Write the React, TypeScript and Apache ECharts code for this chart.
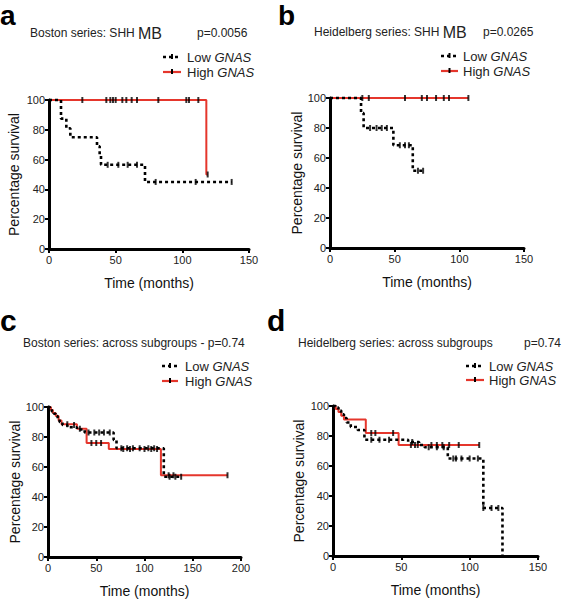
import React, { useEffect, useRef } from "react";
import * as echarts from "echarts";

const FONT = '"Liberation Sans", Arial, Helvetica, sans-serif';
const RED = "#e5362c";

// ---- data (time in months, percentage survival) ----
const yTicksMax = 100;
const xMaxA = 150, xMaxB = 150, xMaxC = 200, xMaxD = 150;

const aLowSteps = [[0, 100], [9, 87.5], [13, 81], [16, 75], [36, 69], [38, 62.5], [39, 56.5], [72, 45], [137, 45]];
const aLowCensor = [[44, 56.5], [52, 56.5], [59, 56.5], [66, 56.5], [80, 45], [110, 45], [137, 45]];
const aHighSteps = [[0, 100], [118, 50], [119, 50]];
const aHighCensor = [[25, 100], [43, 100], [46, 100], [48, 100], [50, 100], [55, 100], [58, 100], [62, 100], [66, 100], [82, 100], [103, 100], [105, 100], [112, 100], [119, 50]];

const bLowSteps = [[0, 100], [24, 90], [26, 80], [49, 68.5], [64, 51.5], [72, 51.5]];
const bLowCensor = [[31, 80], [36, 80], [40, 80], [44, 80], [54, 68.5], [58, 68.5], [61, 68.5], [68, 51.5], [72, 51.5]];
const bHighSteps = [[0, 100], [107, 100]];
const bHighCensor = [[25, 100], [30, 100], [58, 100], [71, 100], [75, 100], [82, 100], [88, 100], [92, 100], [107, 100]];

const cLowSteps = [[0, 100], [2, 99], [4, 97], [6, 95.5], [8, 94], [10, 92], [12, 90], [15, 88], [20, 86.5], [30, 85], [38, 83], [68, 78], [71, 72.5], [120, 53.5], [138, 53.5]];
const cLowCensor = [[27, 88], [42, 83], [48, 83], [53, 83], [58, 83], [64, 83], [76, 72.5], [82, 72.5], [88, 72.5], [95, 72.5], [104, 72.5], [110, 72.5], [126, 53.5], [132, 53.5], [138, 53.5]];
const cHighSteps = [[0, 100], [3, 98], [5, 96], [8, 94], [11, 91], [14, 88.5], [30, 85.5], [40, 76], [63, 72], [117, 54.5], [186, 54.5]];
const cHighCensor = [[20, 88.5], [33, 85.5], [45, 76], [50, 76], [55, 76], [78, 72], [85, 72], [100, 72], [107, 72], [113, 72], [125, 54.5], [130, 54.5], [186, 54.5]];

const dLowSteps = [[0, 100], [2, 99], [4, 97], [6, 94.5], [8, 92], [10, 89], [13, 86], [18, 84], [23, 77.5], [55, 76], [63, 74], [67, 72.5], [84, 65], [110, 32], [124, 0]];
const dLowCensor = [[28, 77.5], [34, 77.5], [41, 77.5], [58, 76], [70, 72.5], [76, 72.5], [81, 72.5], [88, 65], [90, 65], [94, 65], [100, 65], [106, 65], [110, 32], [116, 32], [121, 32]];
const dHighSteps = [[0, 100], [2, 98], [4, 96], [6, 93.5], [8, 91], [24, 82], [48, 74], [107, 74]];
const dHighCensor = [[28, 82], [31, 82], [44, 82], [57, 74], [60, 74], [62, 74], [72, 74], [76, 74], [80, 74], [85, 74], [92, 74], [107, 74]];

const titles = [
  { text: "Boston series: SHH {mb|MB}", p: "p=0.0056" },
  { text: "Heidelberg series: SHH {mb|MB}", p: "p=0.0265" },
  { text: "Boston series: across subgroups - p=0.74", p: "" },
  { text: "Heidelberg series: across subgroups", p: "p=0.74" },
];
const letters = ["a", "b", "c", "d"];

// ---- layout ----
const grids = [
  { left: 49, top: 100, width: 200, height: 149 },
  { left: 330, top: 98, width: 194, height: 150 },
  { left: 48, top: 407, width: 193, height: 150 },
  { left: 333, top: 406, width: 205, height: 150 },
];
const titlePos = [
  { x: 30, y: 33, px: 197 },
  { x: 314, y: 32, px: 483 },
  { x: 23, y: 343, px: 0 },
  { x: 298, y: 343, px: 524 },
];
const letterPos = [
  { x: 0, y: 29, size: 28 },
  { x: 278, y: 29, size: 28 },
  { x: 0, y: 335, size: 30 },
  { x: 267, y: 335, size: 30 },
];
const legendPos = [
  { x1: 163, x2: 181, tx: 187, y: 57, dy: 15 },
  { x1: 441, x2: 458, tx: 463, y: 56, dy: 15 },
  { x1: 162, x2: 178, tx: 185, y: 366, dy: 15 },
  { x1: 466, x2: 484, tx: 489, y: 366, dy: 14 },
];

function stepSeries(data: number[][], idx: number, low: boolean) {
  return {
    type: "line",
    xAxisIndex: idx,
    yAxisIndex: idx,
    data,
    step: "end",
    showSymbol: false,
    symbol: "none",
    clip: false,
    silent: true,
    lineStyle: low
      ? { color: "#000", width: 2.6, type: [3, 3] }
      : { color: RED, width: 2 },
    z: low ? 4 : 3,
  };
}
function censorSeries(data: number[][], idx: number) {
  return {
    type: "scatter",
    xAxisIndex: idx,
    yAxisIndex: idx,
    data,
    symbol: "rect",
    symbolSize: [2, 6],
    itemStyle: { color: "#000" },
    clip: false,
    silent: true,
    z: 5,
  };
}

export default function App() {
  const ref = useRef<HTMLDivElement>(null);
  useEffect(() => {
    if (!ref.current) return;
    const chart = echarts.init(ref.current, undefined, { renderer: "svg" });
    const xMaxes = [xMaxA, xMaxB, xMaxC, xMaxD];
    const nameGapsY = [28, 25, 26, 27];

    const xAxis = grids.map((_, i) => ({
      gridIndex: i,
      type: "value",
      min: 0,
      max: xMaxes[i],
      interval: 50,
      axisLine: { show: true, onZero: false, lineStyle: { color: "#000", width: 3 } },
      axisTick: { show: true, length: 4, lineStyle: { color: "#000", width: 2 } },
      axisLabel: { fontSize: 11, color: "#222", margin: 5, fontFamily: FONT },
      splitLine: { show: false },
      name: "Time (months)",
      nameLocation: "middle",
      nameGap: 27,
      nameTextStyle: { fontSize: 14, color: "#111", fontFamily: FONT },
    }));
    const yAxis = grids.map((_, i) => ({
      gridIndex: i,
      type: "value",
      min: 0,
      max: yTicksMax,
      interval: 20,
      axisLine: { show: true, onZero: false, lineStyle: { color: "#000", width: 3 } },
      axisTick: { show: true, length: 4, lineStyle: { color: "#000", width: 2 } },
      axisLabel: { fontSize: 11, color: "#222", margin: 4, fontFamily: FONT },
      splitLine: { show: false },
      name: "Percentage survival",
      nameLocation: "middle",
      nameGap: nameGapsY[i],
      nameTextStyle: { fontSize: 14, color: "#111", fontFamily: FONT },
    }));

    const series = [
      stepSeries(aHighSteps, 0, false), stepSeries(aLowSteps, 0, true),
      censorSeries(aHighCensor, 0), censorSeries(aLowCensor, 0),
      stepSeries(bHighSteps, 1, false), stepSeries(bLowSteps, 1, true),
      censorSeries(bHighCensor, 1), censorSeries(bLowCensor, 1),
      stepSeries(cHighSteps, 2, false), stepSeries(cLowSteps, 2, true),
      censorSeries(cHighCensor, 2), censorSeries(cLowCensor, 2),
      stepSeries(dHighSteps, 3, false), stepSeries(dLowSteps, 3, true),
      censorSeries(dHighCensor, 3), censorSeries(dLowCensor, 3),
    ];

    const graphic: any[] = [];
    titles.forEach((t, i) => {
      const tp = titlePos[i];
      graphic.push({
        type: "text",
        x: tp.x,
        y: tp.y,
        silent: true,
        style: {
          text: t.text,
          fill: "#222",
          font: `12px ${FONT}`,
          verticalAlign: "middle",
          rich: { mb: { fontSize: 16, fontFamily: FONT, fill: "#222", verticalAlign: "middle" } },
        },
      });
      if (t.p) {
        graphic.push({
          type: "text",
          x: tp.px,
          y: tp.y,
          silent: true,
          style: { text: t.p, fill: "#222", font: `12px ${FONT}`, verticalAlign: "middle" },
        });
      }
      const lp = letterPos[i];
      graphic.push({
        type: "text",
        x: lp.x,
        y: lp.y,
        silent: true,
        style: { text: letters[i], fill: "#000", font: `bold ${lp.size}px ${FONT}`, verticalAlign: "bottom" },
      });
      const lg = legendPos[i];
      const mid = (lg.x1 + lg.x2) / 2;
      [0, 1].forEach((k) => {
        const y = lg.y + k * lg.dy;
        graphic.push({
          type: "line",
          silent: true,
          shape: { x1: lg.x1, y1: y, x2: lg.x2, y2: y },
          style: k === 0
            ? { stroke: "#000", lineWidth: 2.6, lineDash: [3, 3] }
            : { stroke: RED, lineWidth: 2.2 },
        });
        graphic.push({
          type: "rect",
          silent: true,
          shape: { x: mid - 1, y: y - 3, width: 2, height: 5 },
          style: { fill: "#000" },
        });
        graphic.push({
          type: "text",
          x: lg.tx,
          y,
          silent: true,
          style: {
            text: (k === 0 ? "Low " : "High ") + "{i|GNAS}",
            fill: "#222",
            font: `13px ${FONT}`,
            verticalAlign: "middle",
            rich: { i: { fontStyle: "italic", fontSize: 13, fontFamily: FONT, fill: "#222", verticalAlign: "middle" } },
          },
        });
      });
    });

    chart.setOption({
      animation: false,
      backgroundColor: "#fff",
      grid: grids.map((g) => ({ ...g, containLabel: false })),
      xAxis,
      yAxis,
      series,
      graphic,
    });
    return () => chart.dispose();
  }, []);
  return (
    <div
      ref={ref}
      style={{ position: "fixed", left: 0, top: 0, width: 562, height: 600 }}
    />
  );
}
